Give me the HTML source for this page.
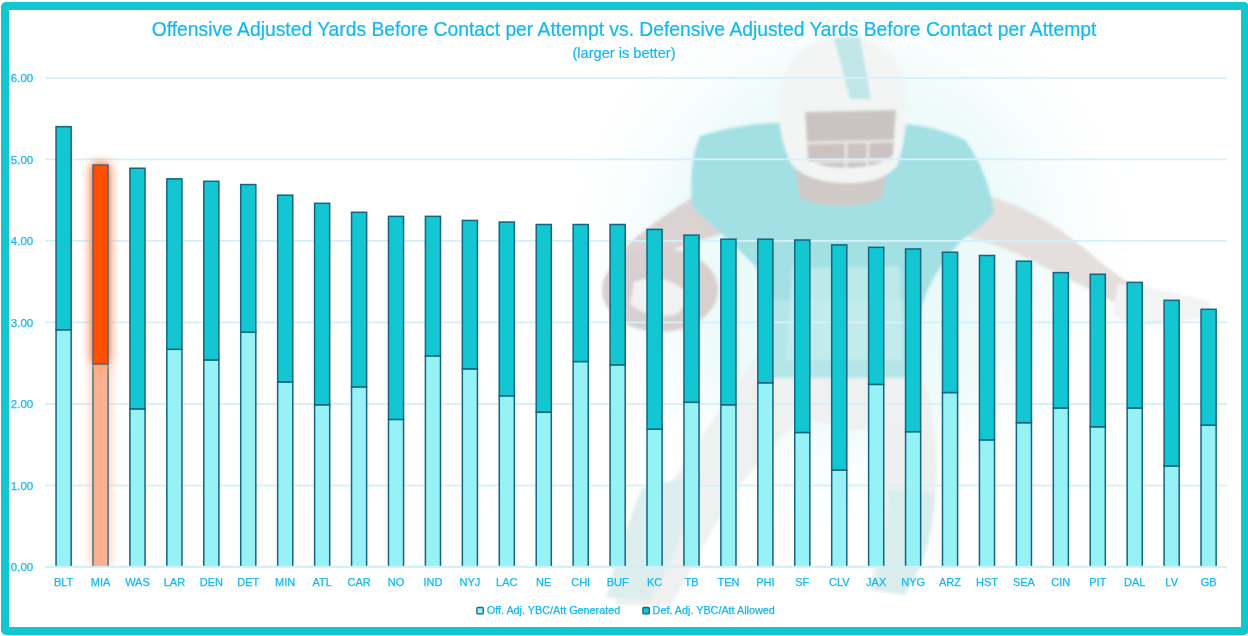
<!DOCTYPE html>
<html><head><meta charset="utf-8">
<style>
html,body{margin:0;padding:0;background:#fff;width:1248px;height:636px;overflow:hidden}
svg{position:absolute;left:0;top:0;display:block}
.ax{font-family:"Liberation Sans",sans-serif;font-size:11px;fill:#0FB8F6;stroke:#0FB8F6;stroke-width:0.25px}
.frame{position:absolute;left:1px;top:2px;width:1232px;height:617px;border:8px solid #13C6D0;border-radius:5px}
</style></head><body>
<svg width="1248" height="636" viewBox="0 0 1248 636">
<defs>
<clipPath id="cp"><rect x="0" y="0" width="1248" height="566.6"/></clipPath>
<filter id="glow" x="-150%" y="-20%" width="400%" height="140%"><feGaussianBlur stdDeviation="5.5"/><feComponentTransfer><feFuncA type="linear" slope="2.2"/></feComponentTransfer></filter>
</defs>
<defs>
<radialGradient id="halo" cx="0.5" cy="0.5" r="0.5">
<stop offset="0" stop-color="#E3F7F8" stop-opacity="1"/>
<stop offset="0.6" stop-color="#EDFAFA" stop-opacity="0.85"/>
<stop offset="1" stop-color="#FFFFFF" stop-opacity="0"/>
</radialGradient>
<filter id="pb" x="-20%" y="-20%" width="140%" height="140%"><feGaussianBlur stdDeviation="1.6"/></filter>
</defs>
<g id="player">
<ellipse cx="850" cy="250" rx="300" ry="290" fill="url(#halo)"/>
<g filter="url(#pb)">
<!-- right arm -->
<path d="M980 194 C1015 202 1050 220 1080 245 C1100 262 1115 274 1128 282 L1120 306 C1095 292 1060 275 1020 255 C995 244 975 238 962 236 Z" fill="#E4DFDD"/>
<path d="M1118 284 C1150 288 1185 294 1210 302 L1212 316 C1185 322 1150 326 1128 326 L1112 314 Z" fill="#F2F3F3"/>
<!-- left leg (very faint) -->
<path d="M760 350 L835 385 C800 420 760 455 730 500 C705 540 690 575 670 605 L615 605 C625 560 650 510 680 470 C705 430 735 390 760 350 Z" fill="#EFF0F0"/>
<path d="M642 488 L700 474 C690 520 670 565 650 600 L606 598 C616 560 628 520 642 488 Z" fill="#DEEEEE"/>
<!-- right leg -->
<path d="M850 380 L925 385 C935 420 940 460 935 500 C930 530 920 560 905 590 L870 588 C880 540 885 500 880 460 Z" fill="#EEEFEF"/>
<path d="M888 490 L935 492 C935 530 925 565 905 595 L872 590 C882 555 888 520 888 490 Z" fill="#DAEDED"/>
<!-- pants -->
<path d="M768 370 L915 370 C925 390 930 405 928 425 L850 430 L790 415 L750 400 Z" fill="#EFF0F0"/>
<!-- left arm upper -->
<path d="M698 194 C712 205 724 218 728 232 C700 240 668 250 640 262 L616 256 C635 236 665 214 698 194 Z" fill="#DAD3D1"/>
<!-- ball + forearm -->
<ellipse cx="660" cy="290" rx="58" ry="42" fill="#D8D0CE"/>
<path d="M634 282 C648 276 668 276 684 290 C688 300 684 310 676 314 C660 318 640 314 630 304 Z" fill="#F1F2F2"/>
<!-- jersey -->
<path d="M700 136 C735 126 770 120 800 124 L885 124 C915 122 945 130 965 140 C980 160 990 185 994 212 C985 225 972 232 962 240 C945 258 930 280 922 305 C918 330 916 355 915 378 L772 378 C768 340 765 300 757 268 C740 250 722 235 712 225 C702 215 695 210 692 205 C690 180 692 152 700 136 Z" fill="#A2E0E3"/>
<path d="M772 300 L915 300 L915 378 L772 378 Z" fill="#BCE8EA" opacity="0.7"/>
<path d="M792 268 L900 266 L902 360 L786 360 Z" fill="#C8ECED" opacity="0.7"/>
<!-- neck -->
<path d="M795 165 L888 165 L882 198 C860 208 820 208 800 198 Z" fill="#CFC9C7"/>
<!-- helmet shell -->
<path d="M842 37 C882 37 908 62 907 102 C906 130 903 150 897 166 C885 180 865 184 842 183 C820 182 800 176 790 162 C781 140 778 120 779 102 C780 62 805 37 842 37 Z" fill="#F3F5F5"/>
<path d="M834 38 L860 37 L871 99 L850 99 Z" fill="#C0E6E8"/>
<path d="M805 112 L896 110 L893 155 C880 170 828 172 808 160 Z" fill="#CAC3C1"/>
<path d="M803 108 L901 106 M806 143 L898 141 M812 162 L892 160 M846 141 L846 178 M868 141 L867 178" stroke="#F2F3F3" stroke-width="2" fill="none"/>
</g>
</g>

<rect x="45" y="484.57" width="1182" height="1.8" fill="#D3F0FB"/>
<rect x="45" y="403.04" width="1182" height="1.8" fill="#D3F0FB"/>
<rect x="45" y="321.51" width="1182" height="1.8" fill="#D3F0FB"/>
<rect x="45" y="239.98" width="1182" height="1.8" fill="#D3F0FB"/>
<rect x="45" y="158.45" width="1182" height="1.8" fill="#D3F0FB"/>
<rect x="45" y="76.92" width="1182" height="1.8" fill="#D3F0FB"/>

<text x="624" y="36.3" text-anchor="middle" style="font-family:'Liberation Sans',sans-serif;font-size:19.3px;fill:#0FB8F6;stroke:#0FB8F6;stroke-width:0.2px">Offensive Adjusted Yards Before Contact per Attempt vs. Defensive Adjusted Yards Before Contact per Attempt</text>
<text x="624" y="57.8" text-anchor="middle" style="font-family:'Liberation Sans',sans-serif;font-size:14.6px;fill:#0FB8F6;stroke:#0FB8F6;stroke-width:0.2px">(larger is better)</text>
<text x="33.2" y="571.20" text-anchor="end" class="ax" style="font-size:11.5px">0.00</text>
<text x="33.2" y="489.67" text-anchor="end" class="ax" style="font-size:11.5px">1.00</text>
<text x="33.2" y="408.14" text-anchor="end" class="ax" style="font-size:11.5px">2.00</text>
<text x="33.2" y="326.61" text-anchor="end" class="ax" style="font-size:11.5px">3.00</text>
<text x="33.2" y="245.08" text-anchor="end" class="ax" style="font-size:11.5px">4.00</text>
<text x="33.2" y="163.55" text-anchor="end" class="ax" style="font-size:11.5px">5.00</text>
<text x="33.2" y="82.02" text-anchor="end" class="ax" style="font-size:11.5px">6.00</text>

<rect x="56.05" y="329.75" width="15.10" height="240.25" clip-path="url(#cp)" fill="#96F2F5" stroke="#146482" stroke-width="1.5"/>
<rect x="56.05" y="126.67" width="15.10" height="203.08" fill="#12C7D1" stroke="#146482" stroke-width="1.5"/>
<rect x="92.23" y="363.99" width="16.60" height="203.01" fill="#FFB590" filter="url(#glow)" clip-path="url(#cp)" opacity="0.42"/>
<rect x="92.98" y="363.99" width="15.10" height="206.01" clip-path="url(#cp)" fill="#FBB08F" stroke="#4A7282" stroke-width="1.5"/>
<rect x="92.23" y="164.24" width="16.60" height="199.75" fill="#FFA27A" filter="url(#glow)" opacity="0.95"/>
<rect x="92.98" y="164.99" width="15.10" height="199.00" fill="#FF4F00" stroke="#4A6A78" stroke-width="1.5"/>
<rect x="129.92" y="408.83" width="15.10" height="161.17" clip-path="url(#cp)" fill="#96F2F5" stroke="#146482" stroke-width="1.5"/>
<rect x="129.92" y="168.25" width="15.10" height="240.58" fill="#12C7D1" stroke="#146482" stroke-width="1.5"/>
<rect x="166.85" y="349.31" width="15.10" height="220.69" clip-path="url(#cp)" fill="#96F2F5" stroke="#146482" stroke-width="1.5"/>
<rect x="166.85" y="178.85" width="15.10" height="170.46" fill="#12C7D1" stroke="#146482" stroke-width="1.5"/>
<rect x="203.79" y="359.91" width="15.10" height="210.09" clip-path="url(#cp)" fill="#96F2F5" stroke="#146482" stroke-width="1.5"/>
<rect x="203.79" y="181.30" width="15.10" height="178.62" fill="#12C7D1" stroke="#146482" stroke-width="1.5"/>
<rect x="240.72" y="332.19" width="15.10" height="237.81" clip-path="url(#cp)" fill="#96F2F5" stroke="#146482" stroke-width="1.5"/>
<rect x="240.72" y="184.56" width="15.10" height="147.63" fill="#12C7D1" stroke="#146482" stroke-width="1.5"/>
<rect x="277.66" y="381.93" width="15.10" height="188.07" clip-path="url(#cp)" fill="#96F2F5" stroke="#146482" stroke-width="1.5"/>
<rect x="277.66" y="195.16" width="15.10" height="186.77" fill="#12C7D1" stroke="#146482" stroke-width="1.5"/>
<rect x="314.60" y="404.76" width="15.10" height="165.24" clip-path="url(#cp)" fill="#96F2F5" stroke="#146482" stroke-width="1.5"/>
<rect x="314.60" y="203.31" width="15.10" height="201.44" fill="#12C7D1" stroke="#146482" stroke-width="1.5"/>
<rect x="351.53" y="386.82" width="15.10" height="183.18" clip-path="url(#cp)" fill="#96F2F5" stroke="#146482" stroke-width="1.5"/>
<rect x="351.53" y="212.28" width="15.10" height="174.54" fill="#12C7D1" stroke="#146482" stroke-width="1.5"/>
<rect x="388.47" y="419.43" width="15.10" height="150.57" clip-path="url(#cp)" fill="#96F2F5" stroke="#146482" stroke-width="1.5"/>
<rect x="388.47" y="216.36" width="15.10" height="203.07" fill="#12C7D1" stroke="#146482" stroke-width="1.5"/>
<rect x="425.40" y="355.84" width="15.10" height="214.16" clip-path="url(#cp)" fill="#96F2F5" stroke="#146482" stroke-width="1.5"/>
<rect x="425.40" y="216.36" width="15.10" height="139.48" fill="#12C7D1" stroke="#146482" stroke-width="1.5"/>
<rect x="462.34" y="368.88" width="15.10" height="201.12" clip-path="url(#cp)" fill="#96F2F5" stroke="#146482" stroke-width="1.5"/>
<rect x="462.34" y="220.43" width="15.10" height="148.45" fill="#12C7D1" stroke="#146482" stroke-width="1.5"/>
<rect x="499.27" y="395.79" width="15.10" height="174.21" clip-path="url(#cp)" fill="#96F2F5" stroke="#146482" stroke-width="1.5"/>
<rect x="499.27" y="222.06" width="15.10" height="173.72" fill="#12C7D1" stroke="#146482" stroke-width="1.5"/>
<rect x="536.21" y="412.09" width="15.10" height="157.91" clip-path="url(#cp)" fill="#96F2F5" stroke="#146482" stroke-width="1.5"/>
<rect x="536.21" y="224.51" width="15.10" height="187.58" fill="#12C7D1" stroke="#146482" stroke-width="1.5"/>
<rect x="573.14" y="361.54" width="15.10" height="208.46" clip-path="url(#cp)" fill="#96F2F5" stroke="#146482" stroke-width="1.5"/>
<rect x="573.14" y="224.51" width="15.10" height="137.04" fill="#12C7D1" stroke="#146482" stroke-width="1.5"/>
<rect x="610.08" y="364.81" width="15.10" height="205.19" clip-path="url(#cp)" fill="#96F2F5" stroke="#146482" stroke-width="1.5"/>
<rect x="610.08" y="224.51" width="15.10" height="140.30" fill="#12C7D1" stroke="#146482" stroke-width="1.5"/>
<rect x="647.01" y="429.21" width="15.10" height="140.79" clip-path="url(#cp)" fill="#96F2F5" stroke="#146482" stroke-width="1.5"/>
<rect x="647.01" y="229.40" width="15.10" height="199.81" fill="#12C7D1" stroke="#146482" stroke-width="1.5"/>
<rect x="683.95" y="402.31" width="15.10" height="167.69" clip-path="url(#cp)" fill="#96F2F5" stroke="#146482" stroke-width="1.5"/>
<rect x="683.95" y="235.11" width="15.10" height="167.20" fill="#12C7D1" stroke="#146482" stroke-width="1.5"/>
<rect x="720.88" y="404.76" width="15.10" height="165.24" clip-path="url(#cp)" fill="#96F2F5" stroke="#146482" stroke-width="1.5"/>
<rect x="720.88" y="239.18" width="15.10" height="165.57" fill="#12C7D1" stroke="#146482" stroke-width="1.5"/>
<rect x="757.82" y="382.74" width="15.10" height="187.26" clip-path="url(#cp)" fill="#96F2F5" stroke="#146482" stroke-width="1.5"/>
<rect x="757.82" y="239.18" width="15.10" height="143.56" fill="#12C7D1" stroke="#146482" stroke-width="1.5"/>
<rect x="794.75" y="432.48" width="15.10" height="137.52" clip-path="url(#cp)" fill="#96F2F5" stroke="#146482" stroke-width="1.5"/>
<rect x="794.75" y="240.00" width="15.10" height="192.48" fill="#12C7D1" stroke="#146482" stroke-width="1.5"/>
<rect x="831.69" y="469.98" width="15.10" height="100.02" clip-path="url(#cp)" fill="#96F2F5" stroke="#146482" stroke-width="1.5"/>
<rect x="831.69" y="244.89" width="15.10" height="225.09" fill="#12C7D1" stroke="#146482" stroke-width="1.5"/>
<rect x="868.62" y="384.37" width="15.10" height="185.63" clip-path="url(#cp)" fill="#96F2F5" stroke="#146482" stroke-width="1.5"/>
<rect x="868.62" y="247.34" width="15.10" height="137.04" fill="#12C7D1" stroke="#146482" stroke-width="1.5"/>
<rect x="905.56" y="431.66" width="15.10" height="138.34" clip-path="url(#cp)" fill="#96F2F5" stroke="#146482" stroke-width="1.5"/>
<rect x="905.56" y="248.97" width="15.10" height="182.69" fill="#12C7D1" stroke="#146482" stroke-width="1.5"/>
<rect x="942.49" y="392.53" width="15.10" height="177.47" clip-path="url(#cp)" fill="#96F2F5" stroke="#146482" stroke-width="1.5"/>
<rect x="942.49" y="252.23" width="15.10" height="140.30" fill="#12C7D1" stroke="#146482" stroke-width="1.5"/>
<rect x="979.43" y="439.81" width="15.10" height="130.19" clip-path="url(#cp)" fill="#96F2F5" stroke="#146482" stroke-width="1.5"/>
<rect x="979.43" y="255.49" width="15.10" height="184.32" fill="#12C7D1" stroke="#146482" stroke-width="1.5"/>
<rect x="1016.36" y="422.69" width="15.10" height="147.31" clip-path="url(#cp)" fill="#96F2F5" stroke="#146482" stroke-width="1.5"/>
<rect x="1016.36" y="261.20" width="15.10" height="161.49" fill="#12C7D1" stroke="#146482" stroke-width="1.5"/>
<rect x="1053.30" y="408.02" width="15.10" height="161.98" clip-path="url(#cp)" fill="#96F2F5" stroke="#146482" stroke-width="1.5"/>
<rect x="1053.30" y="272.61" width="15.10" height="135.41" fill="#12C7D1" stroke="#146482" stroke-width="1.5"/>
<rect x="1090.23" y="426.77" width="15.10" height="143.23" clip-path="url(#cp)" fill="#96F2F5" stroke="#146482" stroke-width="1.5"/>
<rect x="1090.23" y="274.24" width="15.10" height="152.53" fill="#12C7D1" stroke="#146482" stroke-width="1.5"/>
<rect x="1127.16" y="408.02" width="15.10" height="161.98" clip-path="url(#cp)" fill="#96F2F5" stroke="#146482" stroke-width="1.5"/>
<rect x="1127.16" y="282.39" width="15.10" height="125.62" fill="#12C7D1" stroke="#146482" stroke-width="1.5"/>
<rect x="1164.10" y="465.90" width="15.10" height="104.10" clip-path="url(#cp)" fill="#96F2F5" stroke="#146482" stroke-width="1.5"/>
<rect x="1164.10" y="300.33" width="15.10" height="165.57" fill="#12C7D1" stroke="#146482" stroke-width="1.5"/>
<rect x="1201.04" y="425.14" width="15.10" height="144.86" clip-path="url(#cp)" fill="#96F2F5" stroke="#146482" stroke-width="1.5"/>
<rect x="1201.04" y="309.30" width="15.10" height="115.84" fill="#12C7D1" stroke="#146482" stroke-width="1.5"/>

<rect x="45" y="565.8" width="1182" height="2.1" fill="#CFEFFB"/>

<text x="63.60" y="586.3" text-anchor="middle" class="ax">BLT</text>
<text x="100.53" y="586.3" text-anchor="middle" class="ax">MIA</text>
<text x="137.47" y="586.3" text-anchor="middle" class="ax">WAS</text>
<text x="174.41" y="586.3" text-anchor="middle" class="ax">LAR</text>
<text x="211.34" y="586.3" text-anchor="middle" class="ax">DEN</text>
<text x="248.28" y="586.3" text-anchor="middle" class="ax">DET</text>
<text x="285.21" y="586.3" text-anchor="middle" class="ax">MIN</text>
<text x="322.15" y="586.3" text-anchor="middle" class="ax">ATL</text>
<text x="359.08" y="586.3" text-anchor="middle" class="ax">CAR</text>
<text x="396.02" y="586.3" text-anchor="middle" class="ax">NO</text>
<text x="432.95" y="586.3" text-anchor="middle" class="ax">IND</text>
<text x="469.89" y="586.3" text-anchor="middle" class="ax">NYJ</text>
<text x="506.82" y="586.3" text-anchor="middle" class="ax">LAC</text>
<text x="543.75" y="586.3" text-anchor="middle" class="ax">NE</text>
<text x="580.69" y="586.3" text-anchor="middle" class="ax">CHI</text>
<text x="617.63" y="586.3" text-anchor="middle" class="ax">BUF</text>
<text x="654.56" y="586.3" text-anchor="middle" class="ax">KC</text>
<text x="691.50" y="586.3" text-anchor="middle" class="ax">TB</text>
<text x="728.43" y="586.3" text-anchor="middle" class="ax">TEN</text>
<text x="765.37" y="586.3" text-anchor="middle" class="ax">PHI</text>
<text x="802.30" y="586.3" text-anchor="middle" class="ax">SF</text>
<text x="839.24" y="586.3" text-anchor="middle" class="ax">CLV</text>
<text x="876.17" y="586.3" text-anchor="middle" class="ax">JAX</text>
<text x="913.11" y="586.3" text-anchor="middle" class="ax">NYG</text>
<text x="950.04" y="586.3" text-anchor="middle" class="ax">ARZ</text>
<text x="986.98" y="586.3" text-anchor="middle" class="ax">HST</text>
<text x="1023.91" y="586.3" text-anchor="middle" class="ax">SEA</text>
<text x="1060.85" y="586.3" text-anchor="middle" class="ax">CIN</text>
<text x="1097.78" y="586.3" text-anchor="middle" class="ax">PIT</text>
<text x="1134.71" y="586.3" text-anchor="middle" class="ax">DAL</text>
<text x="1171.65" y="586.3" text-anchor="middle" class="ax">LV</text>
<text x="1208.59" y="586.3" text-anchor="middle" class="ax">GB</text>

<rect x="476.9" y="607.5" width="6.4" height="6.4" rx="1" fill="#9AF2F5" stroke="#146482" stroke-width="1.3"/>
<text x="486.8" y="614" class="ax" style="font-size:10.8px">Off. Adj. YBC/Att Generated</text>
<rect x="642.9" y="607.5" width="6.4" height="6.4" rx="1" fill="#12C7D1" stroke="#146482" stroke-width="1.3"/>
<text x="652.6" y="614" class="ax" style="font-size:10.8px">Def. Adj. YBC/Att Allowed</text>
</svg>
<div class="frame"></div>
</body></html>
